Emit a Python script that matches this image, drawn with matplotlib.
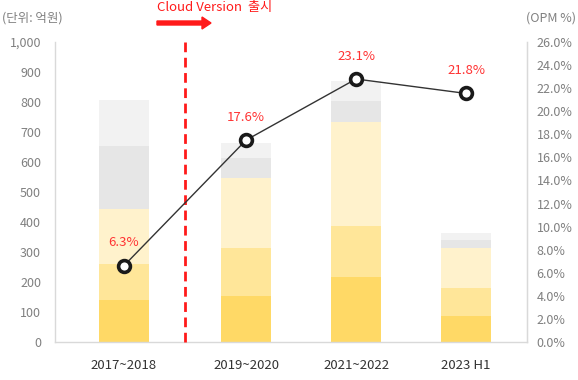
import matplotlib
matplotlib.use("Agg")
import matplotlib.pyplot as plt
import numpy as np

plt.rcParams['font.family'] = ['Noto Sans CJK KR', 'DejaVu Sans']

# ---- data ----
categories = ["2017~2018", "2019~2020", "2021~2022", "2023 H1"]
seg1 = [140, 152, 216, 87]
seg2 = [120, 163, 172, 93]
seg3 = [183, 232, 347, 133]
seg4 = [212, 68, 70, 27]
seg5 = [153, 48, 65, 25]
opm = [6.3, 17.6, 23.1, 21.8]
opm_labels = ["6.3%", "17.6%", "23.1%", "21.8%"]
left_ticks = [0, 100, 200, 300, 400, 500, 600, 700, 800, 900, 1000]
right_ticks = [0, 2, 4, 6, 8, 10, 12, 14, 16, 18, 20, 22, 24, 26]

# ---- layout / style ----
xpos = np.array([0, 1.11, 2.11, 3.11])
bar_w = 0.455
seg_colors = ["#FFD966", "#FFE699", "#FFF2CC", "#E6E6E6", "#F2F2F2"]
W, H = 578, 380
fig = plt.figure(figsize=(W / 100, H / 100), dpi=100)
ax = fig.add_axes([55 / W, 1 - 342 / H, (527 - 55) / W, 300 / H])

bottom = np.zeros(len(categories))
for seg, c in zip([seg1, seg2, seg3, seg4, seg5], seg_colors):
    ax.bar(xpos, seg, bar_w, bottom=bottom, color=c, edgecolor='none', zorder=2)
    bottom += np.array(seg)

ax.set_ylim(0, 1000)
ax.set_xlim(-0.627, 3.664)
ax.set_yticks(left_ticks)
ax.set_yticklabels([f"{v:,}" for v in left_ticks])
ax.set_xticks(xpos)
ax.set_xticklabels(categories)
ax.tick_params(axis='y', length=0, pad=10, labelsize=9, labelcolor='#808080')
ax.tick_params(axis='x', length=0, pad=12, labelsize=9.5, labelcolor='#333333')
ax.spines['top'].set_visible(False)
for s in ['left', 'right', 'bottom']:
    ax.spines[s].set_color('#D9D9D9')
    ax.spines[s].set_linewidth(1)

# dashed release line
ax.axvline(0.555, ymin=0, ymax=1.01, color='#FF1A1A', lw=2, ls=(0, (3.5, 2)), zorder=3,
           clip_on=False)

# right axis (OPM ticks)
ax2 = ax.twinx()
ax2.set_ylim(0, 26)
ax2.set_yticks(right_ticks)
ax2.set_yticklabels([f"{v:.1f}%" for v in right_ticks])
ax2.tick_params(axis='y', length=0, pad=7, labelsize=9, labelcolor='#808080')
for s in ['top', 'left', 'bottom']:
    ax2.spines[s].set_visible(False)
ax2.spines['right'].set_color('#D9D9D9')

# OPM line (drawn on its own scale as in the reference rendering)
ax3 = ax.twinx()
ax3.set_ylim(-0.57, 26.43)
ax3.axis('off')
ax3.plot(xpos, opm, color='#333333', lw=1, zorder=4)
ax3.plot(xpos, opm, ls='none', marker='o', ms=8.5, mfc='white', mec='#1a1a1a', mew=2.6, zorder=5)
for x, v, t in zip(xpos, opm, opm_labels):
    ax3.annotate(t, (x, v), xytext=(0, 16.5), textcoords='offset points', ha='center',
                 va='center', color='#FF3333', fontsize=9.5)

# headers
fig.text(2 / W, 1 - 18 / H, "(단위: 억원)", ha='left', va='center', fontsize=9, color='#808080')
fig.text(576 / W, 1 - 18 / H, "(OPM %)", ha='right', va='center', fontsize=9, color='#808080')
fig.text(157 / W, 1 - 8 / H, "Cloud Version  출시", ha='left', va='center', fontsize=9.5,
         color='#FF1A1A')
fig.patches.append(matplotlib.patches.FancyArrow(
    157 / W, 1 - 23 / H, (211 - 157 - 9) / W, 0, width=4 / H, head_width=12 / H,
    head_length=9 / W, length_includes_head=False, color='#FF1A1A', transform=fig.transFigure,
    figure=fig))

fig.savefig("out.png", dpi=100)
